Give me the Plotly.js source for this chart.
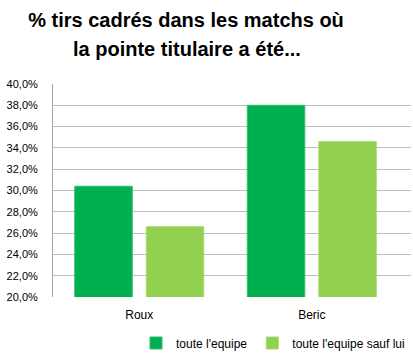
<!DOCTYPE html>
<html>
<head>
<meta charset="utf-8">
<script src="https://cdn.plot.ly/plotly-3.0.1.min.js"></script>
<style>html,body{margin:0;padding:0;background:#fff;}#chart{width:413px;height:360px;}</style>
</head>
<body>
<div id="chart"></div>
<script>
const categories = ["Roux", "Beric"];
const seriesNames = ["toute l'equipe", "toute l'equipe sauf lui"];
const equipe = [0.304, 0.380];
const equipeSaufLui = [0.266, 0.346];
const yTicks = [0.20, 0.22, 0.24, 0.26, 0.28, 0.30, 0.32, 0.34, 0.36, 0.38, 0.40];
const titleLine1 = "% tirs cadrés dans les matchs où";
const titleLine2 = "la pointe titulaire a été...";

const FONT = "Liberation Sans, Arial, sans-serif";

const traces = [
  {type: "bar", name: seriesNames[0], x: categories, y: equipe,
   marker: {color: "#00B050", line: {color: "#2DBE6C", width: 1}}, hoverinfo: "skip"},
  {type: "bar", name: seriesNames[1], x: categories, y: equipeSaufLui,
   marker: {color: "#92D050", line: {color: "#A6DC6E", width: 1}}, hoverinfo: "skip"}
];

const layout = {
  width: 413, height: 360,
  margin: {l: 53, r: 2, t: 84, b: 63, pad: 0},
  paper_bgcolor: "#ffffff", plot_bgcolor: "#ffffff",
  separators: ", ",
  font: {family: FONT, size: 11, color: "#000"},
  barmode: "group", bargap: 0.171, bargroupgap: 0.196,
  title: {text: "<b>" + titleLine1 + "</b>", xref: "container", x: 186/413, xanchor: "center",
          yref: "container", y: 1 - 20/360, yanchor: "middle",
          font: {family: FONT, size: 20, color: "#000"}},
  annotations: [{text: "<b>" + titleLine2 + "</b>", xref: "paper", yref: "paper",
                 x: (187-53)/358, y: (297-49)/213, xanchor: "center", yanchor: "middle",
                 showarrow: false, font: {family: FONT, size: 20, color: "#000"}}],
  xaxis: {type: "category", range: [-0.5, 1.575], showgrid: false, zeroline: false,
          showline: false, ticks: "", ticklabelstandoff: 9,
          tickfont: {family: FONT, size: 12, color: "#000"}},
  yaxis: {range: [0.20, 0.40], tickvals: yTicks, tickformat: ".1%",
          showgrid: true, gridcolor: "#BFBFBF", gridwidth: 1,
          showline: true, linecolor: "#A6A6A6", linewidth: 1, zeroline: false,
          ticks: "", ticklabelstandoff: 12,
          tickfont: {family: FONT, size: 11, color: "#000"}},
  showlegend: true,
  legend: {orientation: "h", x: 410/413, xanchor: "right", xref: "container",
           y: 1 - 343/360, yref: "container", yanchor: "middle",
           font: {family: FONT, size: 12, color: "#000"}, itemwidth: 30,
           bgcolor: "rgba(0,0,0,0)"}
};

Plotly.newPlot("chart", traces, layout, {staticPlot: true, displayModeBar: false});
</script>
</body>
</html>
